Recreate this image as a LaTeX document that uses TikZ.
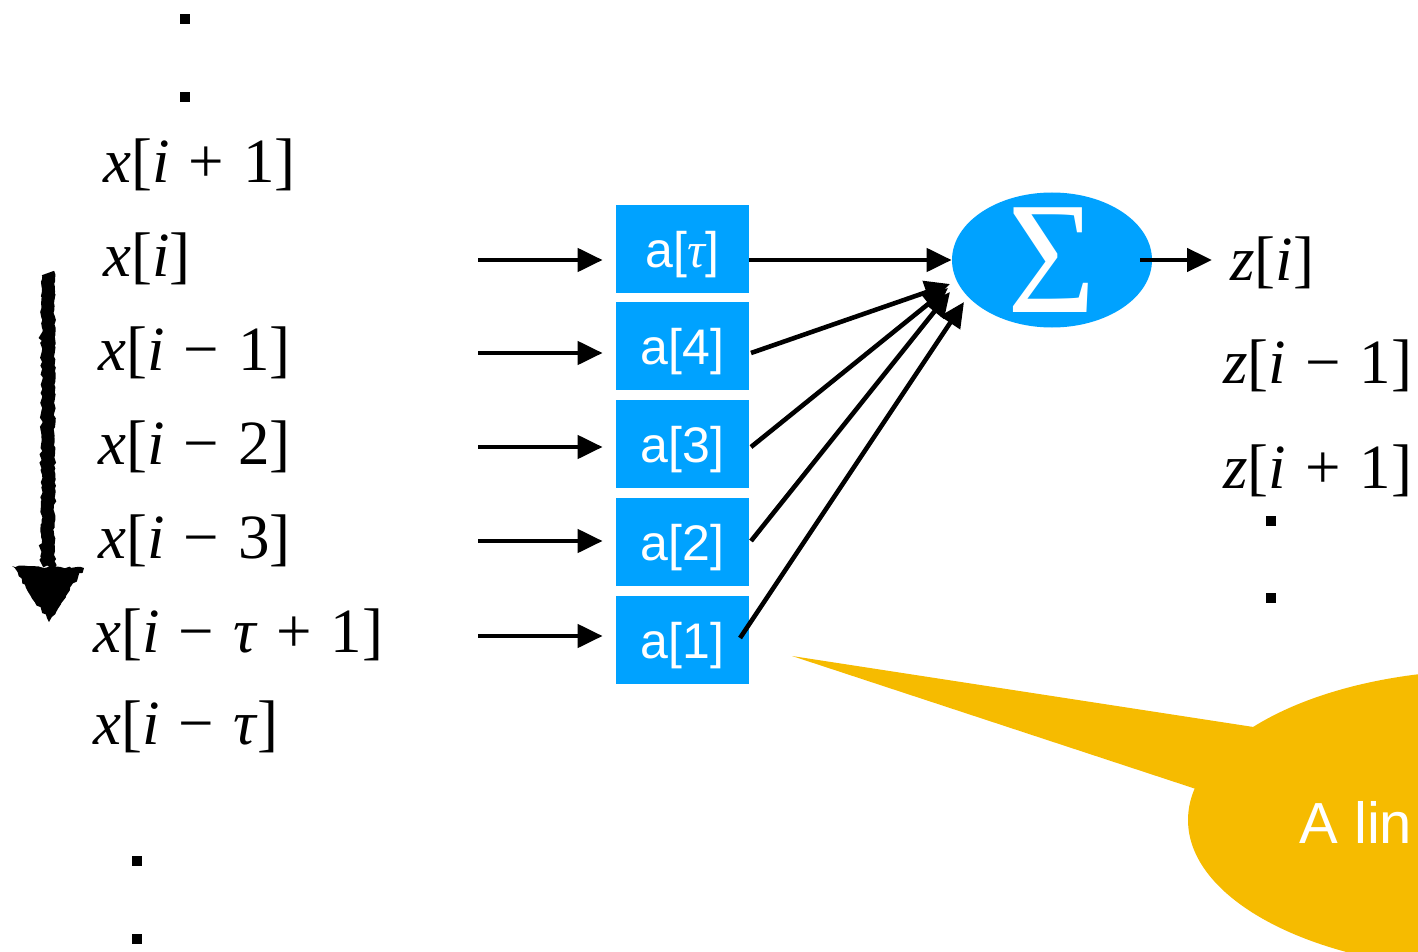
\documentclass[tikz,border=0pt]{standalone}
\usepackage{fontspec}
\setmainfont{Liberation Serif}
\newfontfamily\hsans{Liberation Sans}
\usetikzlibrary{arrows.meta,shapes.geometric,decorations.pathmorphing}
\definecolor{kblue}{RGB}{0,162,255}
\definecolor{kyellow}{RGB}{246,187,0}
\newcommand\vi[1]{\textit{#1}}
\newcommand\op[1]{\hspace{.3em}#1\hspace{.3em}}
\begin{document}
\begin{tikzpicture}[x=0.5pt,y=-0.5pt,
  lbl/.style={anchor=base west, inner sep=0, font=\fontsize{31.5}{31.5}\selectfont},
  wbox/.style={fill=kblue, minimum width=66.5pt, minimum height=44pt, inner sep=0, text height=18.7pt, text depth=0pt, text=white, font=\hsans\fontsize{25}{25}\selectfont},
  arr/.style={line width=2.3pt, -{Triangle[length=12.5pt,width=11.5pt]}},
  dotsq/.style={fill=black, minimum size=5pt, inner sep=0}]
\useasboundingbox (0,0) rectangle (1418,952);
\clip (0,0) rectangle (1418,952);

% input labels
\node[lbl] (xp1) at (103,183) {\vi{x}[\vi{i}\op{+}1]};
\node[lbl] (x0)  at (103,277) {\vi{x}[\vi{i}]};
\node[lbl] (xm1) at (98,370) {\vi{x}[\vi{i}\op{−}1]};
\node[lbl] (xm2) at (98,464) {\vi{x}[\vi{i}\op{−}2]};
\node[lbl] (xm3) at (98,558) {\vi{x}[\vi{i}\op{−}3]};
\node[lbl] (xmt1) at (93,652) {\vi{x}[\vi{i}\op{−}\vi{τ}\op{+}1]};
\node[lbl] (xmt) at (93,744) {\vi{x}[\vi{i}\op{−}\vi{τ}]};

% dots
\node[dotsq] (d1) at (185,19) {};
\node[dotsq] (d2) at (185,97) {};
\node[dotsq] (d3) at (137,861) {};
\node[dotsq] (d4) at (137,939) {};
\node[dotsq] (d5) at (1271,521) {};
\node[dotsq] (d6) at (1271,598) {};

% hand-drawn arrow
\draw[line width=6.5pt, decorate, decoration={random steps, segment length=1.5pt, amplitude=0.6pt}] (48,273) -- (48,566);
\fill[decorate, decoration={random steps, segment length=2pt, amplitude=0.8pt}] (12,566) -- (84,568) -- (49,622) -- cycle;

% coefficient boxes
\node[wbox] (b5) at (682.5,249) {a[{\rmfamily\itshape τ}]};
\node[wbox] (b4) at (682.5,345.5) {a[4]};
\node[wbox] (b3) at (682.5,443.5) {a[3]};
\node[wbox] (b2) at (682.5,541.5) {a[2]};
\node[wbox] (b1) at (682.5,639.5) {a[1]};

% input arrows
\coordinate (in5) at (478,260);
\coordinate (in4) at (478,353);
\coordinate (in3) at (478,447);
\coordinate (in2) at (478,541);
\coordinate (in1) at (478,636);
\draw[arr, shorten >=6.5pt] (in5) -- (b5.west |- in5);
\draw[arr, shorten >=6.5pt] (in4) -- (b4.west |- in4);
\draw[arr, shorten >=6.5pt] (in3) -- (b3.west |- in3);
\draw[arr, shorten >=6.5pt] (in2) -- (b2.west |- in2);
\draw[arr, shorten >=6.5pt] (in1) -- (b1.west |- in1);

% sum
\node[ellipse, fill=kblue, minimum width=100pt, minimum height=67.5pt, inner sep=0] (sum) at (1052,260) {};
\node[text=white, inner sep=0, font=\fontsize{80}{80}\selectfont, xscale=0.95] (sig) at (1052,260) {Σ};

% arrows into sum
\coordinate (s4) at (751,353);
\coordinate (s3) at (751,447);
\coordinate (s2) at (751,541);
\coordinate (s1) at (740,638);
\coordinate (t4) at (950,284);
\coordinate (t3) at (948,288);
\coordinate (t2) at (950,292);
\coordinate (t1) at (964,302);
\draw[arr] (b5.east |- sum) -- (sum.west);
\draw[arr] (s4) -- (t4);
\draw[arr] (s3) -- (t3);
\draw[arr] (s2) -- (t2);
\draw[arr] (s1) -- (t1);

% outputs
\node[lbl] (zi)  at (1230,280) {\vi{z}[\vi{i}]};
\node[lbl] (zm1) at (1223,383) {\vi{z}[\vi{i}\op{−}1]};
\node[lbl] (zp1) at (1223,488) {\vi{z}[\vi{i}\op{+}1]};
\draw[arr, shorten >=9pt] ([xshift=-6pt]sum.east) -- (sum.east -| zi.west);

% callout
\fill[kyellow] (1490,820) ellipse [x radius=302, y radius=150];
\fill[kyellow] (792,656) -- (1260,728) -- (1300,800) -- (1196,789) -- cycle;
\node[anchor=base west, inner sep=0, text=white, font=\hsans\fontsize{29}{29}\selectfont] (callout) at (1299,843) {A lin};
\end{tikzpicture}
\end{document}
